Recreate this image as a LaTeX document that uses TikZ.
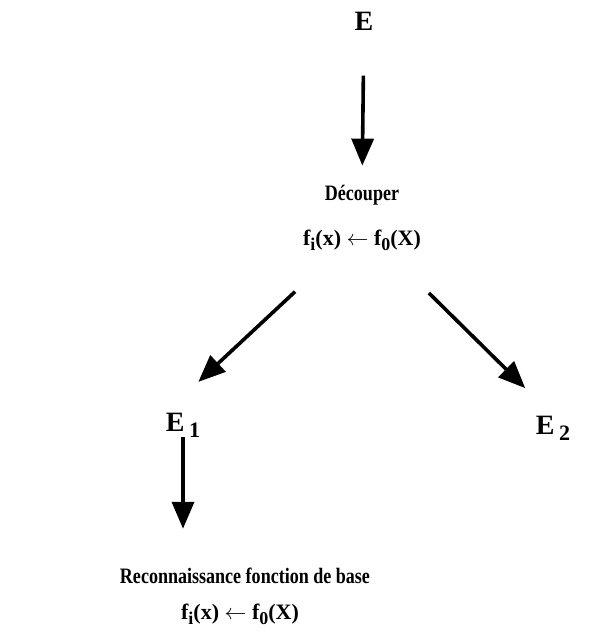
\documentclass[tikz,border=0pt]{standalone}
\usepackage{amsmath, amssymb}
\usepackage{fontspec}
\setmainfont{Liberation Serif}
\newfontfamily\condfont[FakeStretch=0.82]{Liberation Serif}
\usepackage{tikz}
\usetikzlibrary{arrows.meta}

\newcommand{\setidx}[1]{\,\raisebox{-0.45ex}{\fontsize{11}{11}\selectfont #1}}
\newcommand{\fnidx}[1]{\raisebox{-0.5ex}{\fontsize{9}{9}\selectfont #1}}

\tikzset{
  set/.style={inner sep=0pt, font=\fontsize{14}{16}\selectfont\bfseries},
  act/.style={inner sep=0pt, font=\fontsize{11}{13}\selectfont\condfont\bfseries},
  fml/.style={inner sep=0pt, font=\fontsize{11}{13}\selectfont\bfseries},
  arr/.style={line width=1.8pt, -{Triangle[length=13.5pt, width=11pt]}}
}

\begin{document}
\begin{tikzpicture}[x=0.5pt, y=-0.5pt]
        \useasboundingbox (0,0) rectangle (589,644);

        % Sets
        \node[set] (E)  at (364,21)  {E};
        \node[set] (E1) at (183,425) {E\setidx{1}};
        \node[set] (E2) at (553,428) {E\setidx{2}};

        % Actions
        \node[act] (dec)  at (362,195) {Découper};
        \node[fml] (decf) at (362,240) {f\fnidx{i}(x) $\leftarrow$ f\fnidx{0}(X)};
        \node[act] (rec)  at (245,576) {Reconnaissance fonction de base};
        \node[fml] (recf) at (240,614) {f\fnidx{i}(x) $\leftarrow$ f\fnidx{0}(X)};

        % Arrows
        \draw[arr, shorten <=22.5pt, shorten >=9.5pt] (E) -- (dec);
        \draw[arr, shorten <=30pt, shorten >=22.5pt] (decf.205) -- (E1.north west);
        \draw[arr, shorten <=30pt, shorten >=19.5pt] (decf.336) -- (E2.north);
        \draw[arr, shorten >=19.5pt] (E1) -- (E1 |- rec.north);
    \end{tikzpicture}
\end{document}
